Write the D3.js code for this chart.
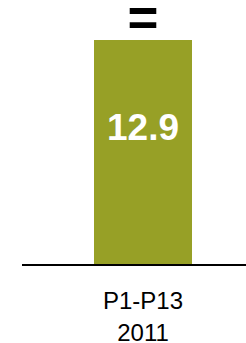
<!DOCTYPE html>
<html>
<head>
<meta charset="utf-8">
<script src="https://cdn.jsdelivr.net/npm/d3@7"></script>
<style>
  html, body { margin: 0; padding: 0; background: #fff; }
  svg { display: block; font-family: "Liberation Sans", Arial, sans-serif; }
</style>
</head>
<body>
<div id="chart"></div>
<script>
// chart data
const categories = ['P1-P13 2011'];
const categoryLines = [['P1-P13', '2011']];
const values = [12.9];
const changeMarks = ['='];

const width = 246;
const height = 343;
const barColor = '#97a026';

const svg = d3.select('#chart').append('svg')
  .attr('width', width)
  .attr('height', height);

const x = d3.scaleBand()
  .domain(categories)
  .range([22, 264])
  .padding(0.4235);

const y = d3.scaleLinear()
  .domain([0, 12.9])
  .range([264, 40]);

// bars
svg.selectAll('rect.bar')
  .data(values)
  .enter().append('rect')
  .attr('class', 'bar')
  .attr('x', (d, i) => x(categories[i]))
  .attr('width', x.bandwidth())
  .attr('y', d => y(d))
  .attr('height', d => y(0) - y(d))
  .attr('fill', barColor);

// value labels inside bars
svg.selectAll('text.value')
  .data(values)
  .enter().append('text')
  .attr('class', 'value')
  .attr('x', (d, i) => x(categories[i]) + x.bandwidth() / 2)
  .attr('y', 140)
  .attr('text-anchor', 'middle')
  .attr('fill', '#fff')
  .style('font-size', '37px')
  .style('font-weight', 'bold')
  .text(d => d.toFixed(1));

// change marks above bars
svg.selectAll('text.mark')
  .data(changeMarks)
  .enter().append('text')
  .attr('class', 'mark')
  .attr('x', (d, i) => x(categories[i]) + x.bandwidth() / 2)
  .attr('y', 36)
  .attr('text-anchor', 'middle')
  .attr('fill', '#000')
  .style('font-size', '53px')
  .style('font-weight', 'bold')
  .text(d => d);

// baseline axis
const axis = svg.append('g')
  .attr('transform', 'translate(0,' + (y(0) + 1) + ')')
  .call(d3.axisBottom(x).tickSize(0).tickFormat(''));
axis.select('.domain').remove();
axis.append('line')
  .attr('x1', 22)
  .attr('x2', width)
  .attr('stroke', '#000')
  .attr('stroke-width', 2);

// category labels
categoryLines.forEach((lines, i) => {
  const t = svg.append('text')
    .attr('text-anchor', 'middle')
    .attr('fill', '#000')
    .style('font-size', '24px');
  lines.forEach((s, j) => {
    t.append('tspan')
      .attr('x', x(categories[i]) + x.bandwidth() / 2)
      .attr('y', 309 + j * 32)
      .text(s);
  });
});
</script>
</body>
</html>
